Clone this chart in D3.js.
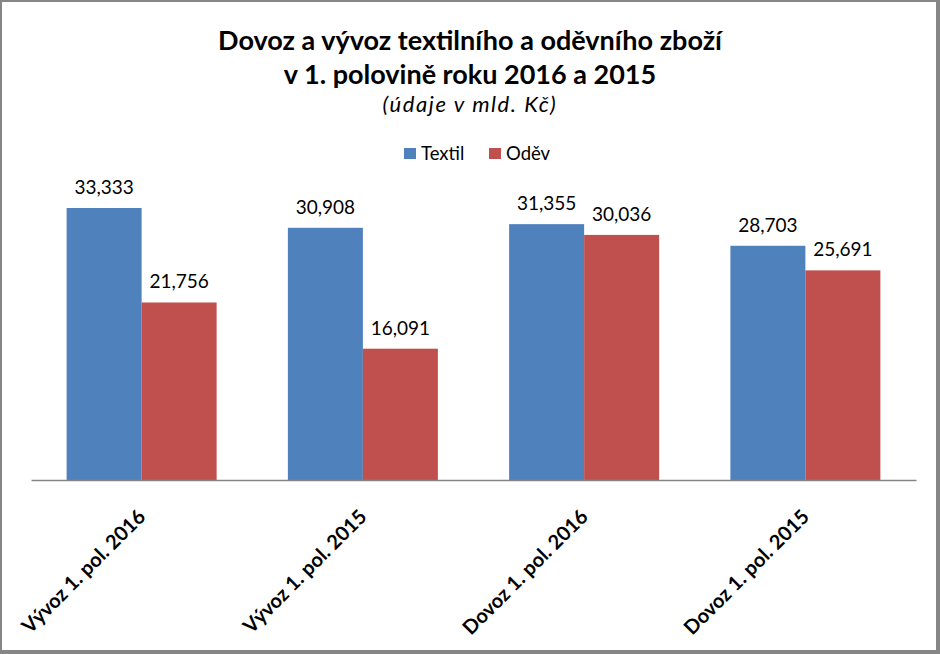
<!DOCTYPE html>
<html><head><meta charset="utf-8">
<script src="https://cdn.jsdelivr.net/npm/d3@7"></script>
<style>
html,body{margin:0;padding:0;background:#fff;}
svg text{font-family:Lato,"Open Sans",sans-serif;}
</style></head>
<body>
<svg id="chart" width="940" height="654"></svg>
<script>
const categories = ["Vývoz 1. pol. 2016","Vývoz 1. pol. 2015","Dovoz 1. pol. 2016","Dovoz 1. pol. 2015"];
const seriesNames = ["Textil","Oděv"];
const textilValues = [33.333, 30.908, 31.355, 28.703];
const odevValues = [21.756, 16.091, 30.036, 25.691];
const colors = ["#4F81BD","#C0504D"];

const svg = d3.select("#chart");
const W = 940, H = 654;
svg.append("rect").attr("x",0).attr("y",0).attr("width",W).attr("height",H).attr("fill","#fff");
// border with shadow
svg.append("rect").attr("x",1).attr("y",1).attr("width",W-4).attr("height",H-4)
  .attr("fill","none").attr("stroke","#868686").attr("stroke-width",2);
svg.append("rect").attr("x",W-3).attr("y",0).attr("width",3).attr("height",H).attr("fill","#868686");
svg.append("rect").attr("x",0).attr("y",H-3).attr("width",W).attr("height",3).attr("fill","#868686");

// title
svg.append("text").attr("x",470).attr("y",50).attr("text-anchor","middle")
  .attr("font-weight","bold").attr("font-size",27).attr("fill","#000")
  .text("Dovoz a vývoz textilního a oděvního zboží");
svg.append("text").attr("x",470).attr("y",84).attr("text-anchor","middle")
  .attr("font-weight","bold").attr("font-size",27).attr("fill","#000")
  .text("v 1. polovině roku 2016 a 2015");
svg.append("text").attr("x",470).attr("y",112).attr("text-anchor","middle")
  .attr("font-style","italic").attr("font-size",22).attr("letter-spacing",1.6).attr("fill","#000")
  .text("(údaje v mld. Kč)");

// legend
const legend = svg.append("g");
const legendItems = [{name:seriesNames[0],x:404},{name:seriesNames[1],x:489}];
legendItems.forEach((d,i)=>{
  legend.append("rect").attr("x",d.x).attr("y",148).attr("width",12).attr("height",11).attr("fill",colors[i]);
  legend.append("text").attr("x",d.x+17).attr("y",160).attr("font-size",18.5).attr("fill","#000").text(d.name);
});

// scales
const x0 = d3.scaleBand().domain(categories).range([31,916]).paddingInner(0).paddingOuter(0);
const y = d3.scaleLinear().domain([0,40]).range([480,153.6]);
const barW = 75;
const x1 = d3.scaleBand().domain(seriesNames).range([0,2*barW]);

const data = categories.map((c,i)=>({cat:c, vals:[textilValues[i], odevValues[i]]}));
const fmt = d3.format(",.3f");

const g = svg.append("g");
data.forEach(d=>{
  const cx = x0(d.cat) + x0.bandwidth()/2;
  d.vals.forEach((v,j)=>{
    const bx = cx - barW + x1(seriesNames[j]);
    g.append("rect").attr("x",bx).attr("y",y(v)).attr("width",barW).attr("height",y(0)-y(v)).attr("fill",colors[j]);
    g.append("text").attr("x",bx+barW/2).attr("y",y(v)-14).attr("text-anchor","middle")
      .attr("font-size",19).attr("fill","#000").text(fmt(v).replace(".",","));
  });
});

// axis
const xAxis = d3.axisBottom(x0).tickSize(0).tickPadding(0);
const ax = svg.append("g").attr("transform","translate(0,480)").call(xAxis);
ax.select(".domain").attr("stroke","#868686").attr("stroke-width",1.5);
ax.selectAll(".tick text")
  .attr("font-family","Lato,'Open Sans',sans-serif")
  .attr("font-weight","bold").attr("font-size",20).attr("fill","#000")
  .attr("text-anchor","end").attr("dy",0)
  .attr("transform","translate(5,38) rotate(-45)");
</script>
</body></html>
